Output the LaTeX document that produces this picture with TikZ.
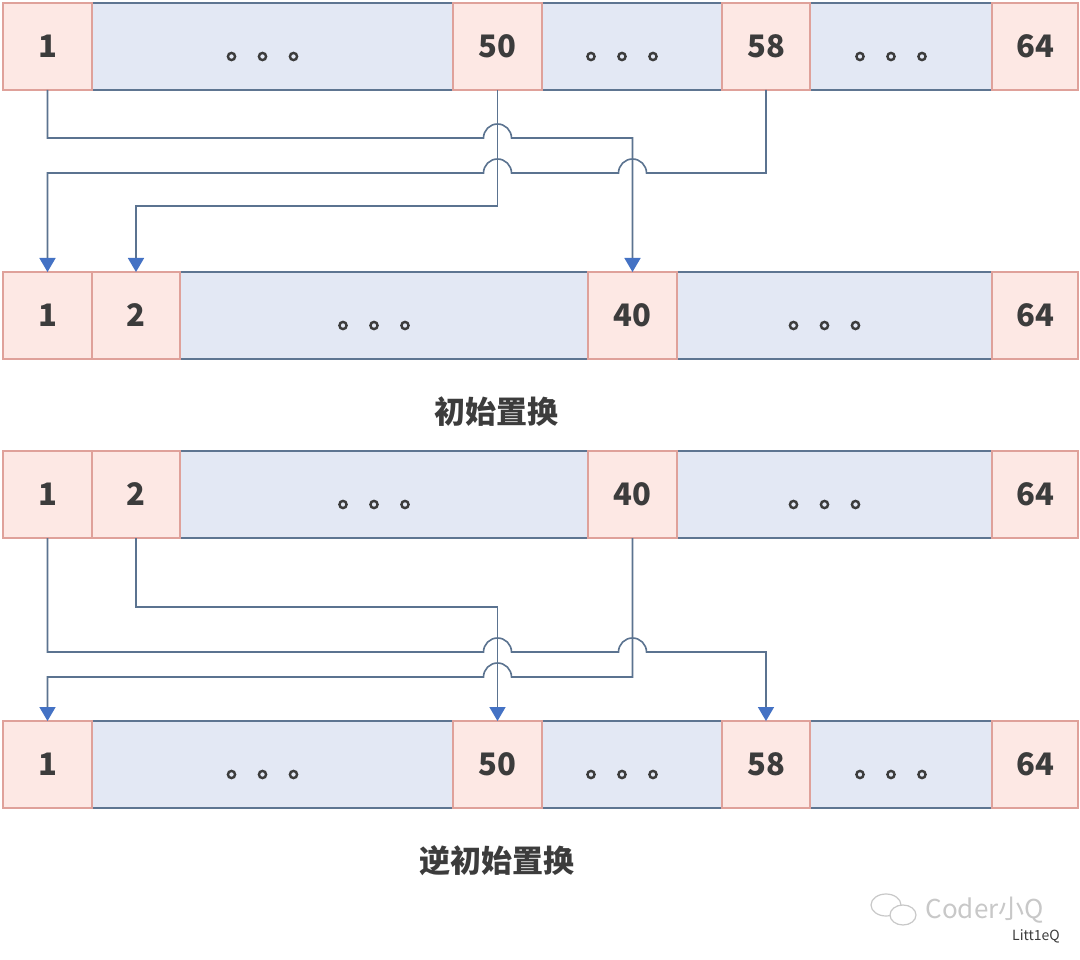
\documentclass[tikz,border=0pt]{standalone}
\usepackage{fontspec}
\usetikzlibrary{arrows.meta,calc}
\newfontfamily\cjk{Noto Sans CJK SC}
\definecolor{pkfill}{HTML}{FDE8E4}
\definecolor{pkline}{HTML}{DFA19A}
\definecolor{blfill}{HTML}{E3E8F4}
\definecolor{blline}{HTML}{5E7591}
\definecolor{txt}{HTML}{3C3C3C}
\definecolor{lncol}{HTML}{5B7390}
\definecolor{arrcol}{HTML}{4472C4}
\definecolor{wm}{HTML}{C8C8C8}
\tikzset{
 cell/.style={draw, line width=1.6pt, inner sep=0pt, outer sep=0pt, anchor=north west, minimum height=87pt, font=\cjk\bfseries\fontsize{31}{33}\selectfont, text=txt},
 pk/.style={cell, draw=pkline, fill=pkfill},
 bl/.style={cell, draw=blline, fill=blfill},
 conn/.style={line width=1.6pt, draw=lncol},
 arr/.style={conn, -{Triangle[width=16pt,length=14pt,color=arrcol,fill=arrcol]}},
 dotst/.style={draw=txt, line width=2.4pt},
 captext/.style={font=\cjk\bfseries\fontsize{31}{33}\selectfont, text=txt},
}
\newcommand\threedots[1]{\foreach \dx in {-41,-10,21}{\draw[dotst] ([xshift=\dx pt, yshift=-10pt]#1.center) circle[radius=3.6pt];}}
\begin{document}
\begin{tikzpicture}[x=1pt,y=-1pt]
\useasboundingbox[fill=white] (0,0) rectangle (1080,960);
% ---- row 1
\node[bl, minimum width=361pt] (td1) at (92,3) {};
\node[bl, minimum width=180pt] (td2) at (542,3) {};
\node[bl, minimum width=182pt] (td3) at (810,3) {};
\node[pk, minimum width=89pt] (t1) at (3,3) {1};
\node[pk, minimum width=89pt] (t50) at (453,3) {50};
\node[pk, minimum width=88pt] (t58) at (722,3) {58};
\node[pk, minimum width=86pt] (t64) at (992,3) {64};
\threedots{td1}\threedots{td2}\threedots{td3}
% ---- row 2
\node[bl, minimum width=408pt] (sd1) at (180,272) {};
\node[bl, minimum width=315pt] (sd2) at (677,272) {};
\node[pk, minimum width=89pt] (s1) at (3,272) {1};
\node[pk, minimum width=88pt] (s2) at (92,272) {2};
\node[pk, minimum width=89pt] (s40) at (588,272) {40};
\node[pk, minimum width=86pt] (s64) at (992,272) {64};
\threedots{sd1}\threedots{sd2}
\node[captext] (cap1) at (496,412) {初始置换};
% ---- row 3
\node[bl, minimum width=408pt] (ud1) at (180,451) {};
\node[bl, minimum width=315pt] (ud2) at (677,451) {};
\node[pk, minimum width=89pt] (u1) at (3,451) {1};
\node[pk, minimum width=88pt] (u2) at (92,451) {2};
\node[pk, minimum width=89pt] (u40) at (588,451) {40};
\node[pk, minimum width=86pt] (u64) at (992,451) {64};
\threedots{ud1}\threedots{ud2}
% ---- row 4
\node[bl, minimum width=361pt] (vd1) at (92,721) {};
\node[bl, minimum width=180pt] (vd2) at (542,721) {};
\node[bl, minimum width=182pt] (vd3) at (810,721) {};
\node[pk, minimum width=89pt] (v1) at (3,721) {1};
\node[pk, minimum width=89pt] (v50) at (453,721) {50};
\node[pk, minimum width=88pt] (v58) at (722,721) {58};
\node[pk, minimum width=86pt] (v64) at (992,721) {64};
\threedots{vd1}\threedots{vd2}\threedots{vd3}
\node[captext] (cap2) at (497,861) {逆初始置换};
% ---- connectors top
\draw[arr] (t1.south) -- (t1.south |- 0,138) -- (483.5,138) arc[start angle=180,end angle=0,radius=14pt] -- (s40.north |- 0,138) -- (s40.north);
\draw[arr] (t50.south) -- (t50.south |- 0,206) -- (s2.north |- 0,206) -- (s2.north);
\draw[arr] (t58.south) -- (t58.south |- 0,173) -- (646.5,173) arc[start angle=0,end angle=180,radius=14pt] -- (511.5,173) arc[start angle=0,end angle=180,radius=14pt] -- (s1.north |- 0,173) -- (s1.north);
% ---- connectors bottom
\draw[arr] (u1.south) -- (u1.south |- 0,652) -- (483.5,652) arc[start angle=180,end angle=0,radius=14pt] -- (618.5,652) arc[start angle=180,end angle=0,radius=14pt] -- (v58.north |- 0,652) -- (v58.north);
\draw[arr] (u2.south) -- (u2.south |- 0,607) -- (v50.north |- 0,607) -- (v50.north);
\draw[arr] (u40.south) -- (u40.south |- 0,677) -- (511.5,677) arc[start angle=0,end angle=180,radius=14pt] -- (v1.north |- 0,677) -- (v1.north);
% ---- watermark
\draw[wm, line width=1.2pt] (886,905) ellipse[x radius=15pt, y radius=11pt];
\draw[wm, line width=1.2pt, fill=white] (903,915) ellipse[x radius=13pt, y radius=10pt];
\node[font=\cjk\fontsize{26}{28}\selectfont, text=wm, anchor=west] (wmt) at (922,910) {Coder小Q};
\node[font=\cjk\fontsize{14}{16}\selectfont, text=txt, anchor=center] (wml) at (1036,936) {Litt1eQ};
\end{tikzpicture}
\end{document}
